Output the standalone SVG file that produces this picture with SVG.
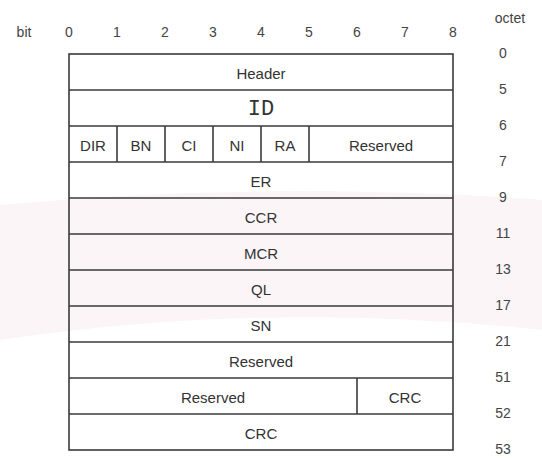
<svg xmlns="http://www.w3.org/2000/svg" width="542" height="458" viewBox="0 0 542 458">
  <style>
    .lbl { font-family: "Liberation Sans", Arial, sans-serif; font-size: 15px; fill: #333; text-anchor: middle; }
    .axis { font-family: "Liberation Sans", Arial, sans-serif; font-size: 14px; fill: #444; text-anchor: middle; }
    .mono { font-family: "Liberation Mono", "Courier New", monospace; font-size: 22px; fill: #333; text-anchor: middle; }
    .cell { fill: none; stroke: #3a3a3a; stroke-width: 1.6; }
    .rule { stroke: #3a3a3a; stroke-width: 1.6; }
  </style>

  <rect width="542" height="458" fill="#ffffff"/>
  <!-- pale tint behind the middle rows -->
  <path d="M0 205 Q270 180 542 200 L542 330 Q270 300 0 340 Z" fill="#fbf5f7"/>

  <!-- bit scale -->
  <g id="bit-scale">
    <text class="axis" x="24" y="37">bit</text>
    <text class="axis" x="69" y="37">0</text>
    <text class="axis" x="117" y="37">1</text>
    <text class="axis" x="165" y="37">2</text>
    <text class="axis" x="213" y="37">3</text>
    <text class="axis" x="261" y="37">4</text>
    <text class="axis" x="309" y="37">5</text>
    <text class="axis" x="357" y="37">6</text>
    <text class="axis" x="405" y="37">7</text>
    <text class="axis" x="453" y="37">8</text>
  </g>

  <!-- octet offsets -->
  <g id="octet-scale">
    <text class="axis" x="510" y="23">octet</text>
    <text class="axis" x="503" y="58">0</text>
    <text class="axis" x="503" y="94">5</text>
    <text class="axis" x="503" y="130">6</text>
    <text class="axis" x="503" y="166">7</text>
    <text class="axis" x="503" y="202">9</text>
    <text class="axis" x="503" y="238">11</text>
    <text class="axis" x="503" y="274">13</text>
    <text class="axis" x="503" y="310">17</text>
    <text class="axis" x="503" y="346">21</text>
    <text class="axis" x="503" y="382">51</text>
    <text class="axis" x="503" y="418">52</text>
    <text class="axis" x="503" y="454">53</text>
  </g>

  <!-- frame and row separators -->
  <g id="connectors">
    <rect class="cell" x="69" y="54" width="384" height="396"/>
    <line class="rule" x1="69" y1="90" x2="453" y2="90"/>
    <line class="rule" x1="69" y1="126" x2="453" y2="126"/>
    <line class="rule" x1="69" y1="162" x2="453" y2="162"/>
    <line class="rule" x1="69" y1="198" x2="453" y2="198"/>
    <line class="rule" x1="69" y1="234" x2="453" y2="234"/>
    <line class="rule" x1="69" y1="270" x2="453" y2="270"/>
    <line class="rule" x1="69" y1="306" x2="453" y2="306"/>
    <line class="rule" x1="69" y1="342" x2="453" y2="342"/>
    <line class="rule" x1="69" y1="378" x2="453" y2="378"/>
    <line class="rule" x1="69" y1="414" x2="453" y2="414"/>
    <!-- flag field dividers -->
    <line class="rule" x1="117" y1="126" x2="117" y2="162"/>
    <line class="rule" x1="165" y1="126" x2="165" y2="162"/>
    <line class="rule" x1="213" y1="126" x2="213" y2="162"/>
    <line class="rule" x1="261" y1="126" x2="261" y2="162"/>
    <line class="rule" x1="309" y1="126" x2="309" y2="162"/>
    <line class="rule" x1="357" y1="378" x2="357" y2="414"/>
  </g>

  <g id="header"><text class="lbl" x="261" y="79">Header</text></g>
  <g id="id"><text class="mono" x="261" y="115">ID</text></g>
  <g id="dir"><text class="lbl" x="93" y="151">DIR</text></g>
  <g id="bn"><text class="lbl" x="141" y="151">BN</text></g>
  <g id="ci"><text class="lbl" x="189" y="151">CI</text></g>
  <g id="ni"><text class="lbl" x="237" y="151">NI</text></g>
  <g id="ra"><text class="lbl" x="285" y="151">RA</text></g>
  <g id="reserved-flags"><text class="lbl" x="381" y="151">Reserved</text></g>
  <g id="er"><text class="lbl" x="261" y="187">ER</text></g>
  <g id="ccr"><text class="lbl" x="261" y="223">CCR</text></g>
  <g id="mcr"><text class="lbl" x="261" y="259">MCR</text></g>
  <g id="ql"><text class="lbl" x="261" y="295">QL</text></g>
  <g id="sn"><text class="lbl" x="261" y="331">SN</text></g>
  <g id="reserved-block"><text class="lbl" x="261" y="367">Reserved</text></g>
  <g id="reserved-tail"><text class="lbl" x="213" y="403">Reserved</text></g>
  <g id="crc-high"><text class="lbl" x="405" y="403">CRC</text></g>
  <g id="crc-low"><text class="lbl" x="261" y="439">CRC</text></g>
</svg>
